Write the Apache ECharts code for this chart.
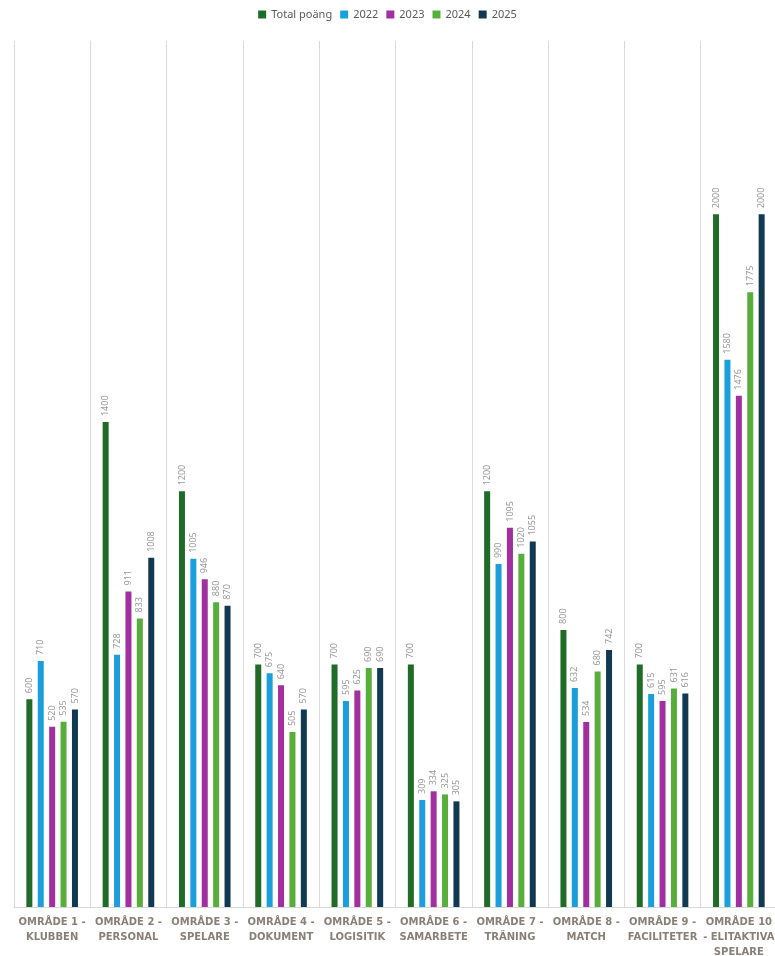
<!DOCTYPE html>
<html>
<head>
<meta charset="utf-8">
<script src="https://cdn.jsdelivr.net/npm/echarts@6/dist/echarts.min.js"></script>
<style>
html,body{margin:0;padding:0;background:#fff;}
#chart{width:775px;height:956px;}
</style>
</head>
<body>
<div id="chart"></div>
<script>
var categories = [
  'OMRÅDE 1 -\nKLUBBEN',
  'OMRÅDE 2 -\nPERSONAL',
  'OMRÅDE 3 -\nSPELARE',
  'OMRÅDE 4 -\nDOKUMENT',
  'OMRÅDE 5 -\nLOGISITIK',
  'OMRÅDE 6 -\nSAMARBETE',
  'OMRÅDE 7 -\nTRÄNING',
  'OMRÅDE 8 -\nMATCH',
  'OMRÅDE 9 -\nFACILITETER',
  'OMRÅDE 10\n- ELITAKTIVA\nSPELARE'
];
var seriesNames = ['Total poäng', '2022', '2023', '2024', '2025'];
var totalPoang = [600, 1400, 1200, 700, 700, 700, 1200, 800, 700, 2000];
var y2022 = [710, 728, 1005, 675, 595, 309, 990, 632, 615, 1580];
var y2023 = [520, 911, 946, 640, 625, 334, 1095, 534, 595, 1476];
var y2024 = [535, 833, 880, 505, 690, 325, 1020, 680, 631, 1775];
var y2025 = [570, 1008, 870, 570, 690, 305, 1055, 742, 616, 2000];
var colors = ['#1f6b27', '#1a9fdc', '#a12f9f', '#58ae3a', '#113a52'];

var allData = [totalPoang, y2022, y2023, y2024, y2025];

var chart = echarts.init(document.getElementById('chart'));
chart.setOption({
  animation: false,
  color: colors,
  legend: {
    top: 4,
    left: 'center',
    itemWidth: 8,
    itemHeight: 8,
    itemGap: 8,
    icon: 'rect',
    textStyle: { color: '#595959', fontSize: 11, fontFamily: 'Noto Sans' },
    data: seriesNames
  },
  grid: { left: 14, right: -2, top: 41, bottom: 49, containLabel: false, outerBoundsMode: 'none' },
  xAxis: {
    type: 'category',
    data: categories,
    axisLine: { lineStyle: { color: '#d9d9d9' } },
    axisTick: { show: false },
    splitLine: { show: true, lineStyle: { color: '#d9d9d9' } },
    axisLabel: {
      interval: 0,
      color: '#8a7f76',
      fontSize: 10,
      fontWeight: 'bold',
      fontFamily: 'DejaVu Sans',
      lineHeight: 15,
      margin: 8
    }
  },
  yAxis: {
    type: 'value',
    min: 0,
    max: 2500,
    show: false,
    splitLine: { show: false }
  },
  series: seriesNames.map(function (name, i) {
    return {
      name: name,
      type: 'bar',
      data: allData[i],
      barWidth: 6,
      barGap: '90%',
      label: {
        show: true,
        position: 'top',
        rotate: 90,
        align: 'left',
        verticalAlign: 'middle',
        distance: 6,
        color: '#999999',
        fontSize: 9,
        fontFamily: 'Noto Sans'
      }
    };
  })
});
</script>
</body>
</html>
